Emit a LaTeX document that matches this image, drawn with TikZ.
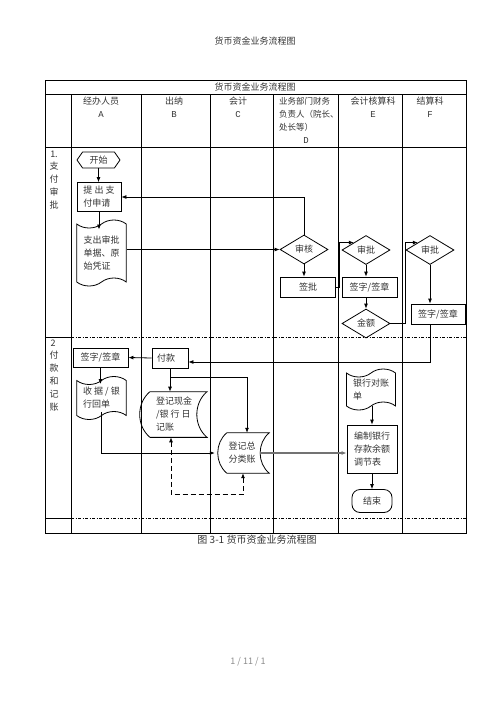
\documentclass[tikz,border=0pt]{standalone}
\usepackage{fontspec}
\newfontfamily\cjk{Noto Sans CJK SC}
\newfontfamily\mono{Liberation Mono}
\usetikzlibrary{shapes.symbols,shapes.geometric,arrows.meta}
\tikzset{
  base/.style={font=\cjk\fontsize{9}{13}\selectfont, text=black!80, inner sep=0pt},
  hdr/.style={base, align=center},
  lbl/.style={base, align=center},
  box/.style={base, draw=black, line width=0.8pt, align=left},
  doc/.style={base, draw=black, line width=0.8pt, tape, tape bend height=8pt, align=left},
  dia/.style={base, draw=black, line width=0.8pt, diamond, aspect=1.65},
  arr/.style={line width=0.8pt, -{Latex[length=5pt,width=4pt]}},
  tbl/.style={line width=1pt},
  dsh/.style={line width=0.8pt, dash pattern=on 3pt off 1.5pt on 1pt off 1.5pt},
}
\begin{document}
\begin{tikzpicture}[x=1pt,y=-1pt]
\useasboundingbox (0,0) rectangle (496,702);
% page header and footer
\node[base] (pagehead) at (255,41) {货币资金业务流程图};
\node[base, text=black!45] (footer) at (248,662) {1 / 11 / 1};
% table
\draw[tbl] (45,80) rectangle (466,533);
\draw[tbl] (45,94) -- (466,94);
\draw[tbl] (45,147) -- (466,147);
\foreach \x in {71,141,210,273,338,402} \draw[tbl] (\x,94) -- (\x,533);
\draw[tbl] (45,337) -- (71,337);
\draw[dsh] (71,337) -- (466,337);
\draw[tbl] (45,518) -- (71,518);
\draw[dsh] (71,518) -- (466,518);
\node[base] (title) at (255,87) {货币资金业务流程图};
% headers
\node[hdr] (hA) at (101,107.5) {经办人员\\{\mono A}};
\node[hdr] (hB) at (174,107.5) {出纳\\{\mono B}};
\node[hdr] (hC) at (238,107.5) {会计\\{\mono C}};
\node[base, font=\cjk\fontsize{8.5}{13}\selectfont, align=left, anchor=west] (hD) at (279,114.3) {业务部门财务\\负责人（院长、\\处长等）};
\node[base] (hDl) at (306,141) {\mono D};
\node[hdr] (hE) at (373,107.5) {会计核算科\\{\mono E}};
\node[hdr] (hF) at (430,107.5) {结算科\\{\mono F}};
% row labels
\node[base] (r1n) at (54,154) {1.};
\node[lbl] (r1) at (54,185.5) {支\\付\\审\\批};
\node[base] (r2n) at (53,343) {2};
\node[lbl] (r2) at (54,381) {付\\款\\和\\记\\账};
% row 1 nodes
\node[base, draw=black, line width=0.8pt, signal, signal to=east and west, signal pointer angle=110,
      minimum width=43pt, minimum height=16pt] (start) at (98.5,160) {开始};
\node[box, minimum width=44pt, minimum height=29pt] (req) at (99,197) {提 出 支\\付申请};
\node[doc, minimum width=49.5pt, minimum height=66pt] (doc1) at (101.5,253) {支出审批\\单据、原\\始凭证};
\node[dia, minimum width=48pt, minimum height=29pt] (sh) at (304,249.5) {审核};
\node[box, align=center, minimum width=55pt, minimum height=20pt] (qp) at (308,287) {签批};
\node[dia, minimum width=48pt, minimum height=29pt] (spE) at (366,250) {审批};
\node[box, align=center, minimum width=55pt, minimum height=20pt] (qzE) at (369.5,287) {签字/签章};
\node[dia, minimum width=48pt, minimum height=29pt] (je) at (366,323.5) {金额};
\node[dia, minimum width=48pt, minimum height=29pt] (spF) at (430,250) {审批};
\node[box, align=center, minimum width=54pt, minimum height=20pt] (qzF) at (438,314) {签字/签章};
% row 1 connectors
\draw[arr] (start.south) -- (start.south |- req.north);
\draw[arr] (req.south) -- ([yshift=-6pt]req.south |- doc1.north);
\draw[arr] (doc1.east |- sh.west) -- (sh.west);
\draw[arr] (sh.north) |- (req.east);
\draw[arr] (sh.south) -- (sh.south |- qp.north);
\draw[arr] (qp.east) -- ++(3.3,0) |- (spE.north west);
\draw[arr] (spE.south) -- (spE.south |- qzE.north);
\draw[arr] (qzE.south -| je.north) -- (je.north);
\draw[arr] (je.east) -- ++(15,0) |- (spF.north west);
\draw[arr] (spF.south) -- (spF.south |- qzF.north);
% row 2 nodes
\node[box, minimum width=36pt, minimum height=20pt, align=left, text width=26pt] (fk) at (170,358) {付款};
\node[box, align=center, minimum width=55pt, minimum height=19pt] (qzA) at (100.5,357.5) {签字/签章};
\node[doc, minimum width=49.5pt, minimum height=43pt] (sj) at (101.5,398) {收 据 / 银\\行回单};
\node[base, align=left, minimum width=65.7pt, minimum height=45.3pt] (djxj) at (174,414.5) {登记现金\\/银 行 日\\记账};
\draw[line width=0.8pt] ([xshift=9pt]djxj.north west) -- (djxj.north east)
   to[bend right=50] (djxj.south east) -- ([xshift=9pt]djxj.south west)
   to[bend left=50] cycle;
\node[base, align=left, minimum width=54pt, minimum height=40pt] (zfl) at (242,453) {登记总\\分类账};
\draw[line width=0.8pt] ([xshift=12pt]zfl.north west) -- (zfl.north east)
   to[bend right=50] (zfl.south east) -- ([xshift=12pt]zfl.south west)
   to[bend left=50] cycle;
\node[doc, minimum width=49pt, minimum height=41pt] (yh) at (371,389.5) {银行对账\\单};
\node[box, minimum width=50pt, minimum height=48pt] (bz) at (372,449) {编制银行\\存款余额\\调节表};
\node[box, align=center, rounded corners=8pt, minimum width=40pt, minimum height=23pt] (js) at (372,501) {结束};
% row 2 connectors
\draw[arr] (qzF.south -| spF.south) |- ([yshift=-4pt]fk.east);
\draw[arr] (fk.west) -- (qzA.east);
\draw[arr] (qzA.south) -- ([yshift=-4pt]qzA.south |- sj.north);
\draw[arr] (fk.south) -- (fk.south |- djxj.north);
\draw[arr] (fk.south) ++(0,9) -| ([xshift=5pt]zfl.north);
\draw[arr] ([yshift=4pt]sj.south) |- (zfl.west);
\draw[-{Latex[length=5pt,width=4pt]}, line width=1.6pt, black!55] ([xshift=-9pt]zfl.east) -- (zfl.east -| bz.west);
\draw[line width=0.8pt, dash pattern=on 5pt off 3pt, {Latex[length=5pt,width=4pt]}-{Latex[length=5pt,width=4pt]}]
   ([xshift=-3pt]djxj.south) -- ++(0,57) -| ([xshift=1pt]zfl.south);
\draw[arr] (bz.north |- yh.south) -- (bz.north);
\draw[arr] (bz.south) -- (js.north);
% caption
\node[base, font=\cjk\fontsize{10}{12}\selectfont] (cap) at (257,540) {图 3-1 货币资金业务流程图};
\end{tikzpicture}
\end{document}
